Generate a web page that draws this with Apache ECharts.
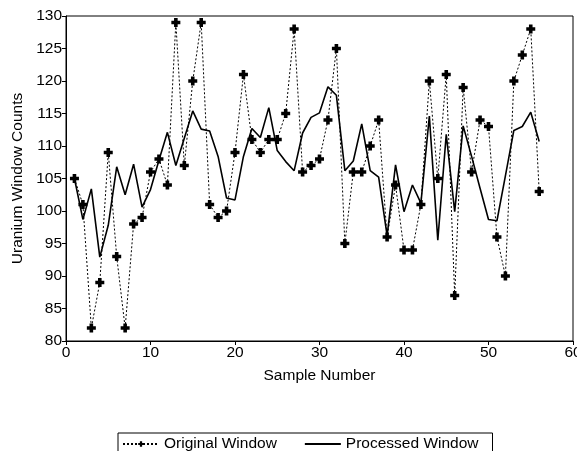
<!DOCTYPE html>
<html>
<head>
<meta charset="utf-8">
<script src="https://cdn.jsdelivr.net/npm/echarts@6/dist/echarts.min.js"></script>
<style>
html,body{margin:0;padding:0;background:#fff;}
#chart{width:577px;height:451px;}
</style>
</head>
<body>
<div id="chart"></div>
<script>
// Data
const sampleNumbers = [1,2,3,4,5,6,7,8,9,10,11,12,13,14,15,16,17,18,19,20,21,22,23,24,25,26,27,28,29,30,31,32,33,34,35,36,37,38,39,40,41,42,43,44,45,46,47,48,49,50,51,52,53,54,55,56];
const originalWindow = [105,101,82,89,109,93,82,98,99,106,108,104,129,107,120,129,101,99,100,109,121,111,109,111,111,115,128,106,107,108,114,125,95,106,106,110,114,96,104,94,94,101,120,105,121,87,119,106,114,113,96,90,120,124,128,103];
const processedWindow = [105,98.7,103.4,92.9,97.8,106.8,102.5,107.2,100.6,103.3,107.8,112.1,107,111.2,115.4,112.6,112.3,108.4,102,101.7,108.4,112.7,111.3,115.9,109.3,107.6,106.2,112,114.4,115.1,119.1,117.8,106.2,107.7,113.4,106.2,105.2,96.2,107.1,99.9,104,101.2,114.6,95.5,111.8,99.9,113.1,108.4,103.5,98.7,98.5,105.4,112.4,113,115.2,110.7];
const seriesNames = ['Original Window', 'Processed Window'];
const xAxisTitle = 'Sample Number';
const yAxisTitle = 'Uranium Window Counts';

const FONT = 'Liberation Sans, Arial, sans-serif';
const FS = 15.5;
const plusPath = 'path://M3,0L7,0L7,3L10,3L10,7L7,7L7,10L3,10L3,7L0,7L0,3L3,3Z';

const chart = echarts.init(document.getElementById('chart'), null, {renderer: 'canvas'});
chart.setOption({
  animation: false,
  backgroundColor: '#fff',
  textStyle: {fontFamily: FONT, color: '#000'},
  grid: {left: 66, right: 4, top: 16, bottom: 110, show: true, borderColor: '#000', borderWidth: 1,
         containLabel: false, outerBoundsMode: 'none'},
  xAxis: {
    type: 'value', min: 0, max: 60, interval: 10,
    name: xAxisTitle, nameLocation: 'middle', nameGap: 27,
    nameTextStyle: {fontFamily: FONT, fontSize: FS, color: '#000'},
    axisLine: {show: true, lineStyle: {color: '#000', width: 1}},
    axisTick: {show: true, inside: false, length: 4, lineStyle: {color: '#000'}},
    axisLabel: {fontFamily: FONT, fontSize: FS, color: '#000', margin: 4, showMaxLabel: true, hideOverlap: false},
    splitLine: {show: false}
  },
  yAxis: {
    type: 'value', min: 80, max: 130, interval: 5,
    name: yAxisTitle, nameLocation: 'middle', nameGap: 38,
    nameTextStyle: {fontFamily: FONT, fontSize: FS, color: '#000'},
    axisLine: {show: true, lineStyle: {color: '#000', width: 1}},
    axisTick: {show: true, inside: false, length: 4, lineStyle: {color: '#000'}},
    axisLabel: {fontFamily: FONT, fontSize: FS, color: '#000', margin: 4},
    splitLine: {show: false}
  },
  legend: {
    left: 118, top: 433,
    padding: [3, 14, 14, 4],
    borderColor: '#000', borderWidth: 1,
    itemWidth: 36, itemHeight: 7, itemGap: 27,
    textStyle: {fontFamily: FONT, fontSize: FS, color: '#000'},
    data: [
      {name: seriesNames[0]},
      {name: seriesNames[1], itemStyle: {opacity: 0}}
    ]
  },
  series: [
    {
      name: seriesNames[0], type: 'line',
      data: sampleNumbers.map((x, i) => [x, originalWindow[i]]),
      symbol: plusPath, symbolSize: 9, showSymbol: true,
      itemStyle: {color: '#000'},
      lineStyle: {color: '#000', width: 1, type: [2, 2]},
      z: 2
    },
    {
      name: seriesNames[1], type: 'line',
      data: sampleNumbers.map((x, i) => [x, processedWindow[i]]),
      symbol: 'none', showSymbol: false,
      itemStyle: {color: '#000'},
      lineStyle: {color: '#000', width: 1.6, type: 'solid'},
      z: 3
    }
  ]
});
</script>
</body>
</html>
